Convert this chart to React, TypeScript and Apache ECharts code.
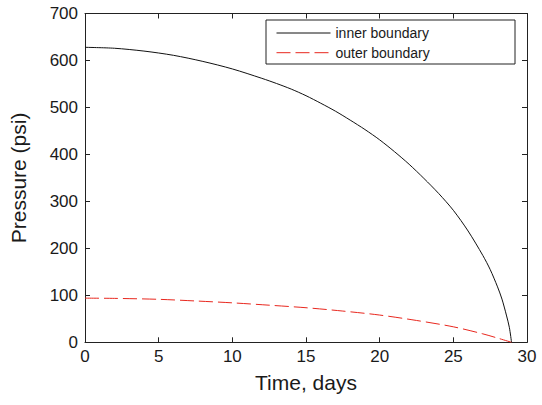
import React, { useEffect, useRef } from "react";
import * as echarts from "echarts";

const innerTime = [0, 2, 4, 6, 8, 10, 12, 13, 14, 15, 16, 17, 18, 19, 20, 21, 22, 23, 24, 25, 26, 27, 27.5, 28, 28.3, 28.6, 28.8, 28.95];
const innerPressure = [628, 626, 620, 611, 598, 582, 562, 551, 539, 525, 509, 492, 473, 453, 431, 406, 379, 349, 317, 281, 237, 185, 155, 118, 92, 58, 32, 0];

const outerTime = [0, 2, 5, 7.5, 10, 12.5, 15, 17.5, 20, 22.5, 25, 27, 28, 28.95];
const outerPressure = [94, 93.5, 91.5, 88, 84, 79, 73.6, 66.5, 58, 46.5, 33, 18, 9, 0];

const xTicks = { min: 0, max: 30, interval: 5 };
const yTicks = { min: 0, max: 700, interval: 100 };

const seriesNames = ["inner boundary", "outer boundary"];

export default function App() {
  const ref = useRef<HTMLDivElement>(null);
  useEffect(() => {
    if (!ref.current) return;
    const chart = echarts.init(ref.current, undefined, { renderer: "svg" });
    const font = "'Liberation Sans', Arial, Helvetica, sans-serif";
    const txt = "#1a1a1a";
    const axisLine = { show: true, onZero: false, lineStyle: { color: "#222", width: 1 } };
    const tick = { show: true, inside: true, length: 5, lineStyle: { color: "#222", width: 1 } };
    chart.setOption({
      animation: false,
      backgroundColor: "#fff",
      textStyle: { fontFamily: font },
      grid: { left: 84.5, right: 15, top: 13.5, bottom: 62.7, containLabel: false },
      graphic: [
        {
          type: "rect",
          z: 3,
          shape: { x: 266, y: 20, width: 249, height: 44 },
          style: { fill: "#fff", stroke: "#222", lineWidth: 1 },
        },
      ],
      legend: {
        orient: "vertical",
        left: 276,
        top: 26,
        padding: 0,
        itemWidth: 54,
        itemHeight: 14,
        itemGap: 5.7,
        z: 5,
        itemStyle: { opacity: 0 },
        lineStyle: { width: 1 },
        textStyle: { fontFamily: font, fontSize: 14, color: txt },
        data: seriesNames,
      },
      xAxis: [
        {
          type: "value",
          position: "bottom",
          min: xTicks.min,
          max: xTicks.max,
          interval: xTicks.interval,
          axisLine,
          axisTick: tick,
          splitLine: { show: false },
          axisLabel: { fontSize: 17, color: txt, margin: 6, fontFamily: font },
          name: "Time, days",
          nameLocation: "middle",
          nameGap: 30,
          nameTextStyle: { fontSize: 21, color: txt, fontFamily: font },
        },
        {
          type: "value",
          position: "top",
          min: xTicks.min,
          max: xTicks.max,
          interval: xTicks.interval,
          axisLine,
          axisTick: tick,
          splitLine: { show: false },
          axisLabel: { show: false },
        },
      ],
      yAxis: [
        {
          type: "value",
          position: "left",
          min: yTicks.min,
          max: yTicks.max,
          interval: yTicks.interval,
          axisLine,
          axisTick: tick,
          splitLine: { show: false },
          axisLabel: { fontSize: 17, color: txt, margin: 7, fontFamily: font },
          name: "Pressure (psi)",
          nameLocation: "middle",
          nameGap: 56,
          nameTextStyle: { fontSize: 21, color: txt, fontFamily: font },
        },
        {
          type: "value",
          position: "right",
          min: yTicks.min,
          max: yTicks.max,
          interval: yTicks.interval,
          axisLine,
          axisTick: tick,
          splitLine: { show: false },
          axisLabel: { show: false },
        },
      ],
      series: [
        {
          name: seriesNames[0],
          type: "line",
          xAxisIndex: 0,
          yAxisIndex: 0,
          symbol: "none",
          smooth: 0.3,
          lineStyle: { color: "#111", width: 1 },
          itemStyle: { color: "#111" },
          data: innerTime.map((t, i) => [t, innerPressure[i]]),
        },
        {
          name: seriesNames[1],
          type: "line",
          xAxisIndex: 0,
          yAxisIndex: 0,
          symbol: "none",
          smooth: 0.3,
          lineStyle: { color: "#e8271e", width: 1, type: [14, 5] },
          itemStyle: { color: "#e8271e" },
          data: outerTime.map((t, i) => [t, outerPressure[i]]),
        },
      ],
    });
    return () => chart.dispose();
  }, []);
  return <div ref={ref} style={{ width: 542, height: 405, position: "absolute", left: 0, top: 0 }} />;
}
